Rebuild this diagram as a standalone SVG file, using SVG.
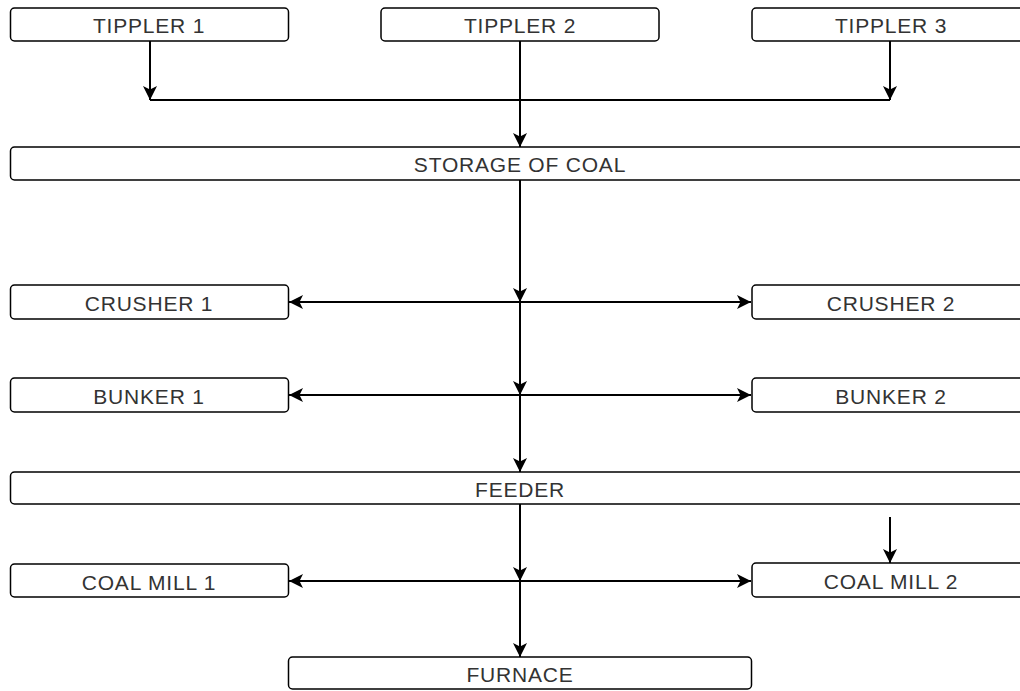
<svg xmlns="http://www.w3.org/2000/svg" width="1020" height="691" viewBox="0 0 1020 691">
<defs>
<style>
.box{fill:#fff;stroke:#000;stroke-width:1.5}
.lbl{font-family:"Liberation Sans",Arial,sans-serif;font-size:21px;letter-spacing:0.8px;fill:#333;text-anchor:middle;dominant-baseline:central}
.ln{fill:none;stroke:#000;stroke-width:2}
</style>
<marker id="ah" viewBox="0 0 12 12" refX="12" refY="6" markerWidth="14" markerHeight="14" markerUnits="userSpaceOnUse" orient="auto">
<path d="M0,0 L12,6 L0,12 L3,6 Z" fill="#000"/>
</marker>
</defs>
<rect width="1020" height="691" fill="#fff"/>
<g id="connectors">
<path class="ln" d="M150,41 V100" marker-end="url(#ah)"/>
<path class="ln" d="M150,100 H890"/>
<path class="ln" d="M890,41 V100" marker-end="url(#ah)"/>
<path class="ln" d="M520,41 V147" marker-end="url(#ah)"/>
<path class="ln" d="M520,180 V302" marker-end="url(#ah)"/>
<path class="ln" d="M520,302 H289" marker-end="url(#ah)"/>
<path class="ln" d="M520,302 H751" marker-end="url(#ah)"/>
<path class="ln" d="M520,302 V395" marker-end="url(#ah)"/>
<path class="ln" d="M520,395 H289" marker-end="url(#ah)"/>
<path class="ln" d="M520,395 H751" marker-end="url(#ah)"/>
<path class="ln" d="M520,395 V472" marker-end="url(#ah)"/>
<path class="ln" d="M520,504 V581" marker-end="url(#ah)"/>
<path class="ln" d="M520,581 H289" marker-end="url(#ah)"/>
<path class="ln" d="M520,581 H751" marker-end="url(#ah)"/>
<path class="ln" d="M520,581 V657" marker-end="url(#ah)"/>
<path class="ln" d="M890,517 V563" marker-end="url(#ah)"/>
</g>
<g id="tippler1"><rect class="box" x="10.5" y="8" width="278" height="33" rx="4"/><text class="lbl" x="149" y="25">TIPPLER 1</text></g>
<g id="tippler2"><rect class="box" x="381" y="8" width="278" height="33" rx="4"/><text class="lbl" x="520" y="25">TIPPLER 2</text></g>
<g id="tippler3"><rect class="box" x="752" y="8" width="278" height="33" rx="4"/><text class="lbl" x="891" y="25">TIPPLER 3</text></g>
<g id="storage"><rect class="box" x="10.5" y="147" width="1020" height="33" rx="4"/><text class="lbl" x="520" y="164">STORAGE OF COAL</text></g>
<g id="crusher1"><rect class="box" x="10.5" y="285" width="278" height="34" rx="4"/><text class="lbl" x="149" y="303">CRUSHER 1</text></g>
<g id="crusher2"><rect class="box" x="752" y="285" width="278" height="34" rx="4"/><text class="lbl" x="891" y="303">CRUSHER 2</text></g>
<g id="bunker1"><rect class="box" x="10.5" y="378" width="278" height="34" rx="4"/><text class="lbl" x="149" y="396">BUNKER 1</text></g>
<g id="bunker2"><rect class="box" x="752" y="378" width="278" height="34" rx="4"/><text class="lbl" x="891" y="396">BUNKER 2</text></g>
<g id="feeder"><rect class="box" x="10.5" y="472" width="1020" height="32" rx="4"/><text class="lbl" x="520" y="489">FEEDER</text></g>
<g id="coalmill1"><rect class="box" x="10.5" y="564" width="278" height="33" rx="4"/><text class="lbl" x="149" y="582">COAL MILL 1</text></g>
<g id="coalmill2"><rect class="box" x="752" y="563" width="278" height="34" rx="4"/><text class="lbl" x="891" y="581">COAL MILL 2</text></g>
<g id="furnace"><rect class="box" x="288.5" y="657" width="463" height="32" rx="4"/><text class="lbl" x="520" y="674">FURNACE</text></g>
</svg>
